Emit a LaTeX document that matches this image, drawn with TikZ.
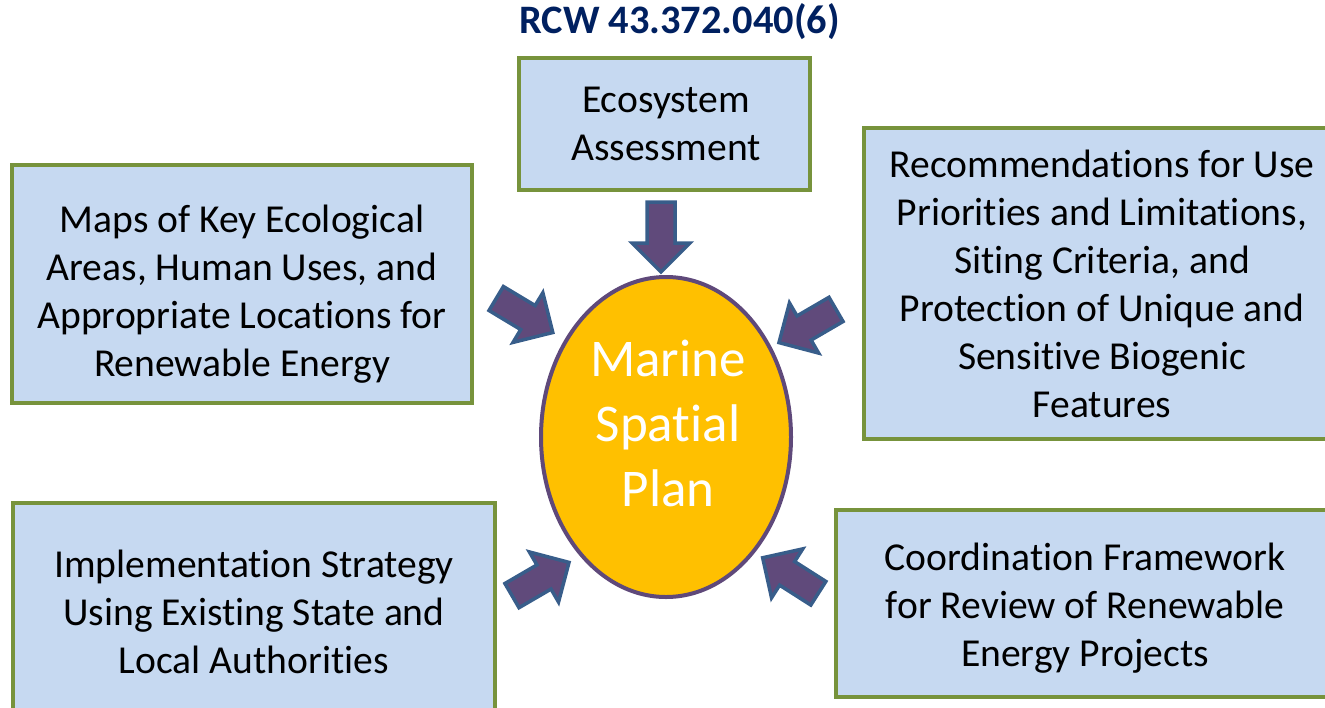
\documentclass[tikz,border=0pt]{standalone}
\usepackage{fontspec}
\setmainfont{Carlito}[RawFeature=-liga]
\definecolor{boxfill}{RGB}{198,217,241}
\definecolor{boxline}{RGB}{119,147,60}
\definecolor{ellfill}{RGB}{255,192,0}
\definecolor{ellline}{RGB}{95,73,122}
\definecolor{arrfill}{RGB}{96,74,123}
\definecolor{arrline}{RGB}{56,93,138}
\definecolor{titlecol}{RGB}{0,32,96}
\tikzset{
  boxsty/.style={draw=boxline, fill=boxfill, line width=4pt},
  boxtext/.style={align=center, inner sep=0pt, font=\fontsize{39.6pt}{48pt}\selectfont},
  arrowsty/.style={draw=arrline, fill=arrfill, line width=3.5pt, line join=miter},
  blockarrow/.pic={\path[arrowsty] (-#1,-14) -- (#1-29,-14) -- (#1-29,-29) -- (#1,0) -- (#1-29,29) -- (#1-29,14) -- (-#1,14) -- cycle;}
}
\begin{document}
\begin{tikzpicture}[x=1pt,y=-1pt]
\useasboundingbox (0,0) rectangle (1325,707);
\clip (0,0) rectangle (1325,707);
% title
\node[font=\fontsize{40.4pt}{48pt}\selectfont\bfseries, text=titlecol, inner sep=0pt] (title) at (679.5,22) {RCW 43.372.040(6)};
% boxes
\draw[boxsty] (519,58) rectangle (810,190);
\node[boxtext] (eco) at (666,124) {Ecosystem\\Assessment};
\draw[boxsty] (12,165) rectangle (472,403);
\node[boxtext] (maps) at (242,294.5) {Maps of Key Ecological\\Areas, Human Uses, and\\Appropriate Locations for\\Renewable Energy};
\draw[boxsty] (864,128) rectangle (1345,439);
\node[boxtext] (rec) at (1102,284) {Recommendations for Use\\Priorities and Limitations,\\Siting Criteria, and\\Protection of Unique and\\Sensitive Biogenic\\Features};
\draw[boxsty] (13,503) rectangle (495,727);
\node[boxtext] (impl) at (254,612) {Implementation Strategy\\Using Existing State and\\Local Authorities};
\draw[boxsty] (836,510) rectangle (1345,697);
\node[boxtext] (coord) at (1085,608) {Coordination Framework\\for Review of Renewable\\Energy Projects};
% ellipse
\draw[draw=ellline, fill=ellfill, line width=4pt] (666,437) ellipse [x radius=125, y radius=160];
\node[align=center, inner sep=0pt, text=white, font=\fontsize{53pt}{65pt}\selectfont] (msp) at (668,423) {Marine\\Spatial\\Plan};
% arrows
\pic[rotate=-90] at (661,237) {blockarrow=35};
\pic[rotate=-31] at (524.5,315.5) {blockarrow=33};
\pic[rotate=-149.8] at (807.5,326) {blockarrow=33};
\pic[rotate=30.2] at (540.5,579) {blockarrow=33};
\pic[rotate=147.5] at (790.5,575.5) {blockarrow=33};
\end{tikzpicture}
\end{document}
